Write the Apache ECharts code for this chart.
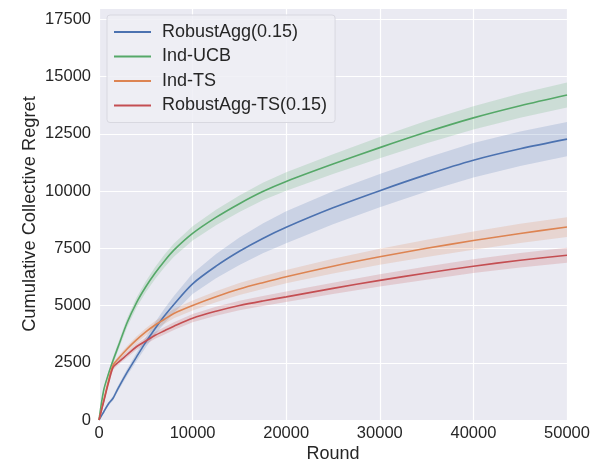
<!DOCTYPE html>
<html>
<head>
<meta charset="utf-8">
<script src="https://cdn.jsdelivr.net/npm/echarts@6/dist/echarts.min.js"></script>
<style>html,body{margin:0;padding:0;background:#fff;}#c{width:606px;height:464px;}</style>
</head>
<body>
<div id="c"></div>
<script>
const rounds = [0, 500, 1000, 1500, 2000, 3000, 4000, 5000, 6000, 7000, 8000, 10000, 12500, 15000, 17500, 20000, 25000, 30000, 35000, 40000, 45000, 50000];

const robustAgg   = [0, 350, 700, 950, 1350, 2080, 2750, 3400, 4000, 4550, 5050, 5950, 6720, 7370, 7930, 8420, 9270, 10020, 10720, 11350, 11850, 12270];
const indUCB      = [0, 1300, 2000, 2600, 3150, 4250, 5120, 5820, 6420, 6950, 7420, 8150, 8850, 9450, 9980, 10420, 11180, 11900, 12580, 13200, 13730, 14200];
const indTS       = [0, 850, 1700, 2400, 2650, 3100, 3500, 3850, 4150, 4400, 4650, 5000, 5380, 5720, 6000, 6260, 6720, 7130, 7500, 7840, 8150, 8430];
const robustAggTS = [0, 800, 1600, 2300, 2500, 2850, 3200, 3450, 3700, 3900, 4100, 4450, 4750, 5000, 5200, 5380, 5750, 6100, 6420, 6720, 6980, 7200];

const robustAggHW   = [0, 50, 80, 100, 120, 150, 180, 220, 270, 320, 370, 450, 530, 600, 650, 700, 720, 730, 740, 750, 750, 750];
const indUCBHW      = [0, 100, 130, 150, 170, 200, 220, 240, 260, 280, 290, 310, 340, 360, 380, 400, 430, 460, 490, 510, 530, 550];
const indTSHW       = [0, 60, 80, 100, 110, 130, 150, 160, 180, 190, 200, 220, 240, 260, 280, 290, 320, 350, 380, 400, 420, 430];
const robustAggTSHW = [0, 60, 80, 100, 110, 120, 130, 140, 150, 160, 170, 180, 200, 210, 220, 230, 250, 270, 290, 300, 320, 330];

const xTicks = [0, 10000, 20000, 30000, 40000, 50000];
const yTicks = [0, 2500, 5000, 7500, 10000, 12500, 15000, 17500];

const names = ['RobustAgg(0.15)', 'Ind-UCB', 'Ind-TS', 'RobustAgg-TS(0.15)'];
const means = [robustAgg, indUCB, indTS, robustAggTS];
const hws = [robustAggHW, indUCBHW, indTSHW, robustAggTSHW];
const colors = ['#4C72B0', '#55A868', '#DD8452', '#C44E52'];
const bandColors = ['rgba(76,114,176,0.2)', 'rgba(85,168,104,0.2)', 'rgba(221,132,82,0.2)', 'rgba(196,78,82,0.2)'];

const FONT = "'Liberation Sans', Arial, sans-serif";

function bandSeries(mean, hw, color) {
  return {
    type: 'custom',
    silent: true,
    z: 1,
    clip: true,
    data: [[0, 0]],
    renderItem: function (params, api) {
      const pts = [];
      for (let i = 0; i < rounds.length; i++) pts.push(api.coord([rounds[i], mean[i] + hw[i]]));
      for (let i = rounds.length - 1; i >= 0; i--) pts.push(api.coord([rounds[i], Math.max(0, mean[i] - hw[i])]));
      return { type: 'polygon', shape: { points: pts }, style: { fill: color } };
    }
  };
}

const series = [];
for (let k = 0; k < 4; k++) series.push(bandSeries(means[k], hws[k], bandColors[k]));
for (let k = 0; k < 4; k++) {
  series.push({
    name: names[k],
    type: 'line',
    data: rounds.map((r, i) => [r, means[k][i]]),
    showSymbol: false,
    symbol: 'none',
    smooth: 0.3,
    z: 3,
    color: colors[k],
    lineStyle: { color: colors[k], width: 1.6 }
  });
}

const chart = echarts.init(document.getElementById('c'), null, { renderer: 'canvas' });
chart.setOption({
  animation: false,
  backgroundColor: '#ffffff',
  grid: { left: 99, right: 39, top: 8, bottom: 44, show: true, backgroundColor: '#EAEAF2', borderWidth: 0,
          containLabel: false, outerBoundsMode: 'none' },
  legend: {
    data: names.map(n => ({ name: n, icon: 'rect' })),
    orient: 'vertical',
    left: 107, top: 15,
    itemWidth: 37, itemHeight: 2,
    itemGap: 6.5,
    padding: [8, 8, 8, 7],
    backgroundColor: 'rgba(238,238,245,0.85)',
    borderColor: '#d8d8e0', borderWidth: 1, borderRadius: 3,
    textStyle: { fontFamily: FONT, fontSize: 18, color: '#262626', padding: [0, 0, 0, 6] }
  },
  xAxis: {
    type: 'value', min: 0, max: 50000, interval: 10000,
    name: 'Round', nameLocation: 'middle', nameGap: 25, nameMoveOverlap: false,
    nameTextStyle: { fontFamily: FONT, fontSize: 18, color: '#262626' },
    axisLine: { show: false }, axisTick: { show: false },
    axisLabel: { fontFamily: FONT, fontSize: 16.5, color: '#262626', margin: 5,
      formatter: v => (xTicks.indexOf(v) >= 0 ? String(v) : '') },
    splitLine: { show: true, lineStyle: { color: '#ffffff', width: 1.2 } }
  },
  yAxis: {
    type: 'value', min: 0, max: 18000, interval: 2500,
    name: 'Cumulative Collective Regret', nameLocation: 'middle', nameGap: 60, nameMoveOverlap: false,
    nameTextStyle: { fontFamily: FONT, fontSize: 18.3, color: '#262626' },
    axisLine: { show: false }, axisTick: { show: false },
    axisLabel: { fontFamily: FONT, fontSize: 16.5, color: '#262626', margin: 8,
      formatter: v => (yTicks.indexOf(v) >= 0 ? String(v) : '') },
    splitLine: { show: true, lineStyle: { color: '#ffffff', width: 1.2 } }
  },
  series: series
});
</script>
</body>
</html>
